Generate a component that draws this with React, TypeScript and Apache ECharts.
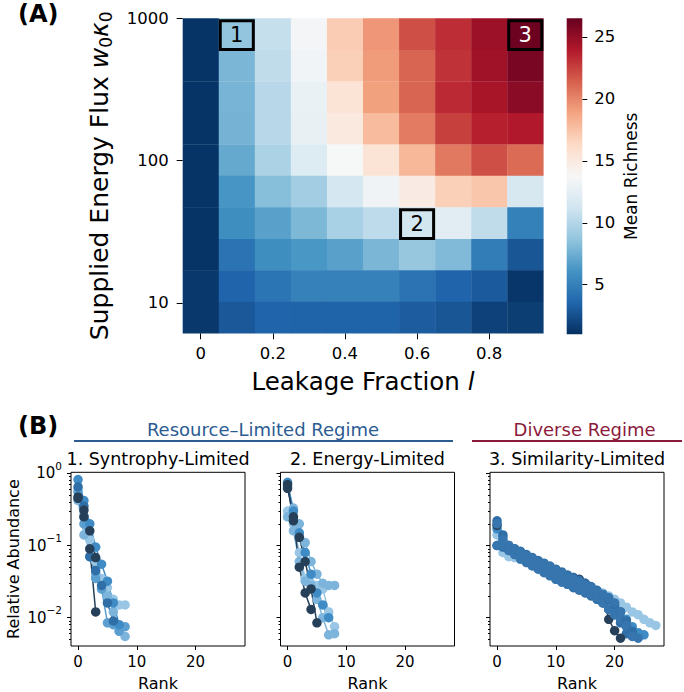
import React, { useEffect, useRef } from "react";
import * as echarts from "echarts";

// ---------- Panel A data ----------
const LEAKAGE = [0, 0.1, 0.2, 0.3, 0.4, 0.5, 0.6, 0.7, 0.8, 0.9];
// supplied energy flux (row centres), top row first
const FLUX = [774, 464, 279, 167, 100.6, 60.5, 36.3, 21.8, 13.1, 7.87];
// mean richness, rows follow FLUX, columns follow LEAKAGE
const RICHNESS = [
  [1.2, 8.7, 10.7, 13.5, 17.0, 19.4, 22.0, 23.2, 24.7, 26.3],
  [1.2, 7.9, 10.5, 13.3, 16.8, 19.2, 21.2, 23.0, 24.6, 25.9],
  [1.2, 7.8, 10.2, 12.9, 15.5, 19.0, 21.2, 23.3, 24.3, 25.3],
  [1.2, 7.7, 10.2, 12.8, 15.0, 17.8, 20.4, 22.5, 23.7, 24.0],
  [1.2, 7.2, 9.7, 12.0, 13.7, 15.5, 18.0, 20.5, 22.0, 21.0],
  [1.2, 6.2, 8.3, 9.3, 11.5, 13.2, 14.8, 16.8, 17.3, 11.6],
  [1.2, 5.8, 6.8, 8.0, 9.6, 10.4, 11.3, 12.3, 10.5, 5.0],
  [1.2, 4.3, 5.8, 6.3, 6.8, 7.9, 8.8, 8.1, 4.8, 2.8],
  [1.4, 3.5, 4.4, 5.1, 5.1, 5.1, 4.3, 3.5, 3.0, 1.3],
  [1.4, 2.9, 3.5, 3.4, 3.4, 3.4, 3.1, 2.8, 1.8, 1.6],
];
const LEAK_TICKS = [0, 0.2, 0.4, 0.6, 0.8];
const FLUX_TICKS = [10, 100, 1000];
const CB_TICKS = [5, 10, 15, 20, 25];
const RICH_MIN = 1;
const RICH_MAX = 26.5;
const BOXES = [
  { label: "1", leak: 0.1, flux: 774, color: "#000000" },
  { label: "2", leak: 0.6, flux: 36.3, color: "#000000" },
  { label: "3", leak: 0.9, flux: 774, color: "#ffffff" },
];

// ---------- Panel B data ----------
const RANK_TICKS = [0, 10, 20];
const ABUND_TICKS = [0.01, 0.1, 1];
const PANEL_TITLES = ["1. Syntrophy-Limited", "2. Energy-Limited", "3. Similarity-Limited"];
const REGIMES = ["Resource\u2013Limited Regime", "Diverse Regime"];

const C_DARK = "#26405a";
const C_STEEL = "#2f6ea6";
const C_STEEL2 = "#3675ad";
const C_MED = "#3f8bc5";
const C_MLIGHT = "#5a9fd0";
const C_LIGHT = "#7db4db";
const C_VLIGHT = "#98c6e4";

const PANEL1 = [
  { color: C_VLIGHT, values: [0.6, 0.25, 0.12, 0.06, 0.035, 0.026, 0.018, 0.015, 0.015] },
  { color: C_LIGHT, values: [0.42, 0.14, 0.09, 0.04, 0.025, 0.02, 0.012, 0.0065, 0.0055] },
  { color: C_MLIGHT, values: [0.55, 0.2, 0.07, 0.035, 0.025, 0.0085, 0.008, 0.0065, 0.0075] },
  { color: C_MED, values: [0.82, 0.42, 0.2, 0.095, 0.055, 0.032, 0.016, 0.008] },
  { color: C_STEEL, values: [0.65, 0.35, 0.07, 0.045, 0.028, 0.016, 0.009] },
  { color: C_DARK, values: [0.47, 0.31, 0.16, 0.068] },
  { color: C_DARK, values: [0.45, 0.25, 0.09, 0.012] },
];
const PANEL2 = [
  { color: C_VLIGHT, values: [0.3, 0.2, 0.08, 0.035, 0.03, 0.028, 0.025, 0.012, 0.0075] },
  { color: C_LIGHT, values: [0.65, 0.33, 0.2, 0.11, 0.06, 0.04, 0.03, 0.028, 0.028] },
  { color: C_LIGHT, values: [0.25, 0.16, 0.06, 0.032, 0.028, 0.018, 0.01, 0.0058, 0.006] },
  { color: C_MED, values: [0.75, 0.3, 0.15, 0.08, 0.04, 0.022, 0.015, 0.01] },
  { color: C_DARK, values: [0.7, 0.22, 0.13, 0.06, 0.025, 0.0085] },
  { color: C_DARK, values: [0.62, 0.25, 0.05, 0.022, 0.013] },
];
const PANEL3 = [
  { color: C_VLIGHT, values: [0.14, 0.08, 0.07, 0.068, 0.064, 0.06, 0.056, 0.052, 0.048, 0.044, 0.041, 0.038, 0.035, 0.032, 0.03, 0.028, 0.026, 0.024, 0.022, 0.02, 0.018, 0.016, 0.014, 0.012, 0.011, 0.0095, 0.0085, 0.0078] },
  { color: C_MED, values: [0.17, 0.13, 0.1, 0.085, 0.075, 0.068, 0.062, 0.056, 0.05, 0.045, 0.04, 0.036, 0.033, 0.03, 0.028, 0.025, 0.023, 0.021, 0.019, 0.017, 0.014, 0.012, 0.0095, 0.0075, 0.0062, 0.0058] },
  { color: C_STEEL, values: [0.1, 0.095, 0.088, 0.08, 0.073, 0.067, 0.06, 0.052, 0.046, 0.041, 0.036, 0.032, 0.029, 0.026, 0.024, 0.022, 0.02, 0.018, 0.016, 0.013, 0.011, 0.0085, 0.006] },
  { color: C_DARK, values: [0.19, 0.11, 0.09, 0.08, 0.07, 0.063, 0.058, 0.053, 0.048, 0.044, 0.042, 0.04, 0.038, 0.036, 0.034, 0.03, 0.025, 0.022, 0.02, 0.0095, 0.0066, 0.0052] },
  { color: C_STEEL2, values: [0.1, 0.1, 0.085, 0.075, 0.065, 0.058, 0.052, 0.047, 0.042, 0.038, 0.034, 0.031, 0.029, 0.027, 0.025, 0.023, 0.021, 0.019, 0.016, 0.013, 0.011, 0.0095, 0.0075, 0.006, 0.0052] },
  { color: C_STEEL, values: [0.22, 0.14, 0.1, 0.09, 0.083, 0.075, 0.068, 0.062, 0.057, 0.052, 0.047, 0.043, 0.039, 0.036, 0.033, 0.03, 0.027, 0.024, 0.021, 0.018, 0.015, 0.012, 0.009, 0.0065] },
  { color: C_STEEL2, values: [0.2, 0.12, 0.1, 0.09, 0.08, 0.072, 0.066, 0.06, 0.055, 0.05, 0.045, 0.041, 0.037, 0.034, 0.031, 0.028, 0.026, 0.023, 0.021, 0.019, 0.016, 0.012, 0.0078, 0.0055] },
];
const PANELS = [PANEL1, PANEL2, PANEL3];

const RDBU_R = [
  "#053061", "#2166ac", "#4393c3", "#92c5de", "#d1e5f0", "#f7f7f7",
  "#fddbc7", "#f4a582", "#d6604d", "#b2182b", "#67001f",
];

const FONT = "DejaVu Sans";
const REGIME_BLUE = "#2b5c92";
const REGIME_RED = "#8c1a3c";

function buildOption(): any {
  // heatmap row edges in log10 space
  const logC = FLUX.map((f) => Math.log10(f));
  const n = logC.length;
  const hi = logC.map((c, i) => (i > 0 ? (c + logC[i - 1]) / 2 : c + (c - logC[1]) / 2));
  const lo = logC.map((c, i) => (i < n - 1 ? (c + logC[i + 1]) / 2 : c - (logC[i - 1] - c) / 2));
  const fluxTickVals = FLUX_TICKS.map((f) => Math.log10(f));
  const yMin = lo[n - 1];
  const yMax = Math.max(hi[0], fluxTickVals[fluxTickVals.length - 1]);

  const heatData: number[][] = [];
  RICHNESS.forEach((row, r) => row.forEach((v, c) => heatData.push([LEAKAGE[c], lo[r], hi[r], v])));
  const boxData = BOXES.map((b, i) => {
    const r = FLUX.indexOf(b.flux);
    return [b.leak, lo[r], hi[r], i];
  });

  const panelLeft = [71, 280.5, 490];
  const panelTop = 472.3;
  const panelW = 174;
  const panelH = 174.4;
  const pyMin = -2.392;
  const pyMax = 0.014;

  const minorVals: number[] = [];
  for (let e = -3; e <= 0; e++) for (let k = 2; k <= 9; k++) {
    const v = Math.log10(k) + e;
    if (v > pyMin && v < pyMax) minorVals.push(v);
  }
  const majorVals = ABUND_TICKS.map((v) => Math.log10(v));

  const grid: any[] = [
    { left: 182.7, top: 18.3, width: 360.6, height: 315 },
    { left: 566.7, top: 18.3, width: 15.6, height: 316 },
    ...panelLeft.map((l) => ({ left: l, top: panelTop, width: panelW, height: panelH, show: true, borderColor: "#000", borderWidth: 1, backgroundColor: "transparent" })),
  ];

  const noLine = { show: false, onZero: false };
  const tickStyle = { color: "#000", width: 1 };
  const xAxis: any[] = [
    {
      gridIndex: 0, type: "value", min: -0.05, max: 0.95,
      axisLine: noLine, splitLine: { show: false },
      axisTick: { show: true, length: 6, lineStyle: tickStyle, customValues: LEAK_TICKS },
      axisLabel: { customValues: LEAK_TICKS, fontSize: 16.5, color: "#000", margin: 12, fontFamily: FONT, formatter: (v: number) => (v === 0 ? "0" : String(Math.round(v * 10) / 10)) },
      name: "Leakage Fraction {i|l}", nameLocation: "middle", nameGap: 36,
      nameTextStyle: { fontSize: 24.5, color: "#000", fontFamily: FONT, rich: { i: { fontSize: 24.5, fontStyle: "italic", fontFamily: FONT, color: "#000" } } },
    },
    { gridIndex: 1, type: "value", min: 0, max: 1, show: false },
    ...panelLeft.map((_, i) => ({
      gridIndex: 2 + i, type: "value", min: -1.2, max: 28.4,
      axisLine: noLine, splitLine: { show: false },
      axisTick: { show: true, length: 4, lineStyle: tickStyle, customValues: RANK_TICKS },
      axisLabel: { customValues: RANK_TICKS, fontSize: 15, color: "#000", margin: 8, fontFamily: FONT },
      name: "Rank", nameLocation: "middle", nameGap: 29,
      nameTextStyle: { fontSize: 16, color: "#000", fontFamily: FONT },
    })),
  ];

  const yAxis: any[] = [
    {
      gridIndex: 0, type: "value", min: yMin, max: yMax, position: "left",
      axisLine: noLine, splitLine: { show: false },
      axisTick: { show: true, length: 6, lineStyle: tickStyle, customValues: fluxTickVals },
      axisLabel: { customValues: fluxTickVals, showMaxLabel: true, fontSize: 16.5, color: "#000", margin: 14, fontFamily: FONT, formatter: (v: number) => String(Math.round(Math.pow(10, v))) },
      name: "Supplied Energy Flux {i|w}{s|0}{i|\u03ba}{s|0}", nameLocation: "middle", nameGap: 68, nameRotate: 90,
      nameTextStyle: {
        fontSize: 25, color: "#000", fontFamily: FONT, lineHeight: 30,
        rich: {
          i: { fontSize: 25, fontStyle: "italic", fontFamily: FONT, color: "#000", lineHeight: 30 },
          s: { fontSize: 17, fontFamily: FONT, color: "#000", verticalAlign: "bottom", lineHeight: 17 },
        },
      },
    },
    {
      gridIndex: 1, type: "value", min: RICH_MIN, max: RICH_MAX, position: "right",
      axisLine: noLine, splitLine: { show: false },
      axisTick: { show: true, length: 5, lineStyle: tickStyle, customValues: CB_TICKS },
      axisLabel: { customValues: CB_TICKS, fontSize: 16.5, color: "#000", margin: 12, fontFamily: FONT },
      name: "Mean Richness", nameLocation: "middle", nameGap: 40, nameRotate: 90,
      nameTextStyle: { fontSize: 17, color: "#000", fontFamily: FONT },
    },
    ...panelLeft.map((_, i) => ({
      gridIndex: 2 + i, type: "value", min: pyMin, max: pyMax, position: "left",
      axisLine: noLine, splitLine: { show: false },
      axisTick: { show: true, length: 4, lineStyle: tickStyle, customValues: majorVals },
      axisLabel: {
        show: i === 0, customValues: majorVals, margin: 9, fontFamily: FONT,
        formatter: (v: number) => {
          const e = Math.round(v);
          return `{b|10}{s|${e === 0 ? "0" : "\u2212" + -e}}`;
        },
        rich: {
          b: { fontSize: 15, color: "#000", fontFamily: FONT, lineHeight: 26 },
          s: { fontSize: 10.5, color: "#000", fontFamily: FONT, verticalAlign: "top", lineHeight: 11 },
        },
      },
      name: i === 0 ? "Relative Abundance" : "", nameLocation: "middle", nameGap: 50, nameRotate: 90,
      nameTextStyle: { fontSize: 16, color: "#000", fontFamily: FONT },
    })),
    ...panelLeft.map((_, i) => ({
      gridIndex: 2 + i, type: "value", min: pyMin, max: pyMax, position: "left",
      axisLine: noLine, splitLine: { show: false },
      axisTick: { show: true, length: 2, lineStyle: tickStyle, customValues: minorVals },
      axisLabel: { show: false, customValues: minorVals },
    })),
  ];

  const series: any[] = [
    {
      type: "custom", xAxisIndex: 0, yAxisIndex: 0, data: heatData,
      encode: { x: 0, y: [1, 2] },
      renderItem: (_p: any, api: any) => {
        const x = api.value(0);
        const p0 = api.coord([x - 0.05, api.value(2)]);
        const p1 = api.coord([x + 0.05, api.value(1)]);
        return {
          type: "rect",
          shape: { x: p0[0], y: p0[1], width: p1[0] - p0[0] + 0.3, height: p1[1] - p0[1] + 0.3 },
          style: { fill: api.visual("color") },
        };
      },
    },
    {
      type: "custom", xAxisIndex: 0, yAxisIndex: 0, data: boxData, z: 5,
      encode: { x: 0, y: [1, 2] },
      renderItem: (_p: any, api: any) => {
        const x = api.value(0);
        const b = BOXES[api.value(3)];
        const p0 = api.coord([x - 0.05, api.value(2)]);
        const p1 = api.coord([x + 0.05, api.value(1)]);
        const w = p1[0] - p0[0];
        const h = p1[1] - p0[1];
        return {
          type: "group",
          children: [
            { type: "rect", shape: { x: p0[0] + 1.5, y: p0[1] + 2.5, width: w - 3, height: h - 3 }, style: { fill: "none", stroke: "#000", lineWidth: 3 } },
            { type: "text", x: p0[0] + w / 2, y: p0[1] + h / 2 + 1, style: { text: b.label, fill: b.color, fontSize: 21, fontFamily: FONT, align: "center", verticalAlign: "middle" } },
          ],
        };
      },
    },
    {
      type: "custom", xAxisIndex: 1, yAxisIndex: 1, data: [[0, RICH_MIN, RICH_MAX]],
      encode: { x: 0, y: [1, 2] },
      renderItem: (_p: any, api: any) => {
        const p0 = api.coord([0, api.value(2)]);
        const p1 = api.coord([1, api.value(1)]);
        const stops = RDBU_R.map((c, i) => ({ offset: 1 - i / (RDBU_R.length - 1), color: c })).reverse();
        return {
          type: "rect",
          shape: { x: p0[0], y: p0[1], width: p1[0] - p0[0], height: p1[1] - p0[1] },
          style: { fill: new echarts.graphic.LinearGradient(0, 0, 0, 1, stops) },
        };
      },
    },
  ];

  PANELS.forEach((panel, pi) => {
    panel.forEach((s) => {
      series.push({
        type: "line", xAxisIndex: 2 + pi, yAxisIndex: 2 + pi,
        data: s.values.map((v, r) => [r, Math.log10(v)]),
        symbol: "circle", symbolSize: 9.5, showSymbol: true,
        lineStyle: { color: s.color, width: 1.5 },
        itemStyle: { color: s.color },
        emphasis: { disabled: true },
      });
    });
  });

  const graphic: any[] = [
    { type: "text", left: 18, top: 2, style: { text: "(A)", fontSize: 24, fontWeight: "bold", fontFamily: FONT, fill: "#000" } },
    { type: "text", left: 18, top: 414, style: { text: "(B)", fontSize: 24, fontWeight: "bold", fontFamily: FONT, fill: "#000" } },
    { type: "text", x: 263, y: 429, style: { text: REGIMES[0], fontSize: 18, fontFamily: FONT, fill: REGIME_BLUE, align: "center", verticalAlign: "middle" } },
    { type: "line", shape: { x1: 74, y1: 441, x2: 453, y2: 441 }, style: { stroke: REGIME_BLUE, lineWidth: 2 } },
    { type: "text", x: 584.5, y: 429, style: { text: REGIMES[1], fontSize: 18, fontFamily: FONT, fill: REGIME_RED, align: "center", verticalAlign: "middle" } },
    { type: "line", shape: { x1: 472, y1: 441, x2: 682, y2: 441 }, style: { stroke: REGIME_RED, lineWidth: 2 } },
    ...PANEL_TITLES.map((t, i) => ({
      type: "text", x: panelLeft[i] + panelW / 2, y: 459,
      style: { text: t, fontSize: 17.5, fontFamily: FONT, fill: "#000", align: "center", verticalAlign: "middle" },
    })),
  ];

  return {
    animation: false,
    backgroundColor: "#ffffff",
    textStyle: { fontFamily: FONT },
    grid, xAxis, yAxis, series, graphic,
    visualMap: {
      type: "continuous", show: false, min: RICH_MIN, max: RICH_MAX, dimension: 3, seriesIndex: 0,
      inRange: { color: RDBU_R },
    },
  };
}

export default function App() {
  const ref = useRef<HTMLDivElement>(null);
  useEffect(() => {
    if (!ref.current) return;
    const chart = echarts.init(ref.current, null, { renderer: "svg" });
    chart.setOption(buildOption());
    return () => chart.dispose();
  }, []);
  return (
    <div
      ref={ref}
      style={{ position: "fixed", left: 0, top: 0, width: 684, height: 692, background: "#fff" }}
    />
  );
}
